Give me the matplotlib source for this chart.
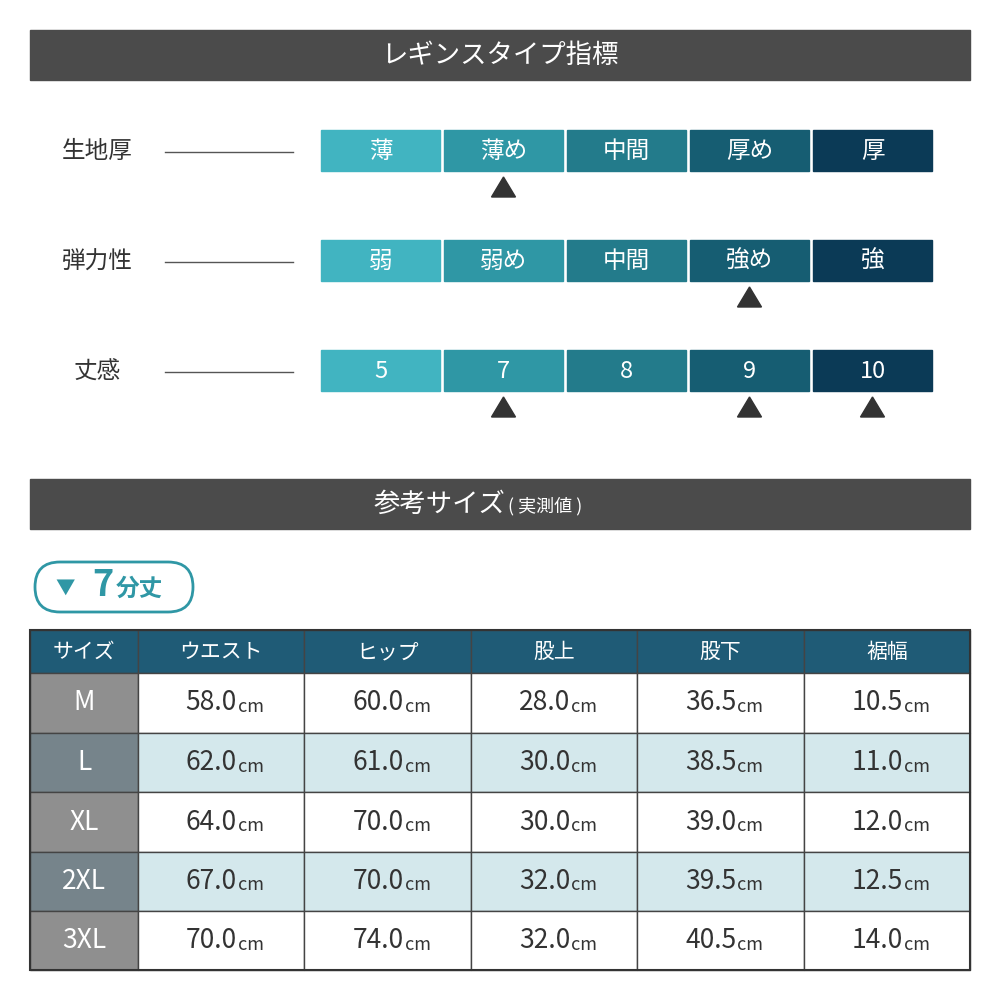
import matplotlib.pyplot as plt
from matplotlib.patches import Rectangle, FancyBboxPatch, Polygon

plt.rcParams['font.family'] = ['Noto Sans CJK JP', 'DejaVu Sans']

seg_colors = ['#41b4c1', '#2f97a5', '#237b8b', '#165d72', '#0b3a56']
indicators = ['生地厚', '弾力性', '丈感']
ind_labels = [['薄', '薄め', '中間', '厚め', '厚'],
              ['弱', '弱め', '中間', '強め', '強'],
              ['5', '7', '8', '9', '10']]
ind_marks = [[1], [3], [1, 3, 4]]

columns = ['サイズ', 'ウエスト', 'ヒップ', '股上', '股下', '裾幅']
sizes = ['M', 'L', 'XL', '2XL', '3XL']
values = [[58.0, 60.0, 28.0, 36.5, 10.5],
          [62.0, 61.0, 30.0, 38.5, 11.0],
          [64.0, 70.0, 30.0, 39.0, 12.0],
          [67.0, 70.0, 32.0, 39.5, 12.5],
          [70.0, 74.0, 32.0, 40.5, 14.0]]

fig = plt.figure(figsize=(10, 10), dpi=100)
ax = fig.add_axes([0, 0, 1, 1])
ax.set_xlim(0, 1000)
ax.set_ylim(1000, 0)
ax.axis('off')

def bar(y, text):
    ax.add_patch(Rectangle((30, y), 940, 50, color='#4b4b4b'))
    return ax.text(500, y + 25, text, color='white', fontsize=19, ha='center', va='center')

bar(30, 'レギンスタイプ指標')
ax.add_patch(Rectangle((30, 479), 940, 50, color='#4b4b4b'))
ax.text(505, 504, '参考サイズ', color='white', fontsize=19, ha='right', va='center')
ax.text(508, 506, '( 実測値 )', color='white', fontsize=13, ha='left', va='center')

for r, name in enumerate(indicators):
    y = 130 + r * 110
    ax.text(97, y + 22, name, fontsize=17, ha='center', va='center', color='#333333')
    ax.plot([165, 293], [y + 22, y + 22], color='#555555', lw=1)
    for i, lab in enumerate(ind_labels[r]):
        x = 321 + i * 123
        ax.add_patch(Rectangle((x, y), 119, 41, color=seg_colors[i]))
        ax.text(x + 59.5, y + 21, lab, fontsize=17, ha='center', va='center', color='white')
    for i in ind_marks[r]:
        cx = 321 + i * 123 + 59.5
        ax.add_patch(Polygon([(cx - 12, y + 67), (cx + 12, y + 67), (cx, y + 47)], color='#333333'))

ax.add_patch(FancyBboxPatch((35, 562), 158, 50, boxstyle='round,pad=0,rounding_size=25',
                            fc='white', ec='#2f97a5', lw=2))
ax.text(65, 588, '▼', fontsize=14, color='#2f97a5', ha='center', va='center')
ax.text(92, 586, '7', fontsize=26, color='#2f97a5', ha='left', va='center', fontweight='bold')
ax.text(116, 589, '分丈', fontsize=17, color='#2f97a5', ha='left', va='center', fontweight='bold')

col_x = [30, 138, 304, 471, 637, 804, 970]
row_y = [630, 673, 733, 792, 852, 911, 970]
for c, name in enumerate(columns):
    ax.add_patch(Rectangle((col_x[c], 630), col_x[c + 1] - col_x[c], 43, fc='#1f5b76', ec='#444444', lw=1))
    ax.text((col_x[c] + col_x[c + 1]) / 2, 652, name, fontsize=15, color='white', ha='center', va='center')
for r, s in enumerate(sizes):
    y0, y1 = row_y[r + 1], row_y[r + 2]
    cy = (y0 + y1) / 2
    ax.add_patch(Rectangle((30, y0), 108, y1 - y0, fc='#8f8f8f' if r % 2 == 0 else '#76848b', ec='#444444', lw=1))
    ax.text(84, cy, s, fontsize=19, color='white', ha='center', va='center')
    for c, v in enumerate(values[r]):
        x0, x1 = col_x[c + 1], col_x[c + 2]
        ax.add_patch(Rectangle((x0, y0), x1 - x0, y1 - y0, fc='white' if r % 2 == 0 else '#d4e8ec', ec='#444444', lw=1))
        cx = (x0 + x1) / 2
        ax.text(cx + 16, cy, f'{v:.1f}', fontsize=19, color='#333333', ha='right', va='center')
        ax.text(cx + 17, cy + 4, 'cm', fontsize=13, color='#333333', ha='left', va='center')
ax.add_patch(Rectangle((30, 630), 940, 340, fill=False, ec='#333333', lw=1.5))

fig.savefig('out.png', dpi=100, facecolor='white')
